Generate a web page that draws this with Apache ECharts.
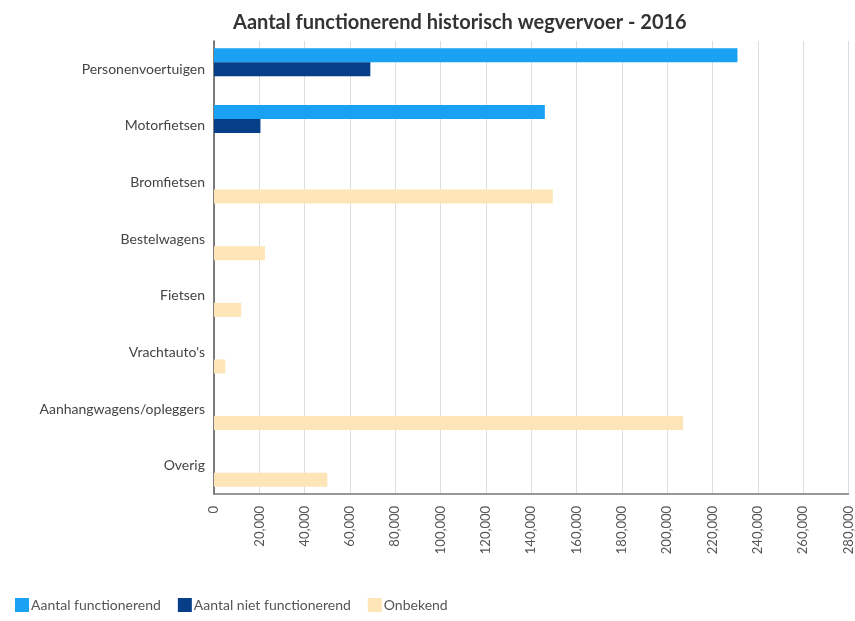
<!DOCTYPE html>
<html>
<head>
<meta charset="utf-8">
<script src="https://cdn.jsdelivr.net/npm/echarts@6/dist/echarts.min.js"></script>
<style>
html, body { margin: 0; padding: 0; background: #fff; }
#chart { width: 855px; height: 621px; }
</style>
</head>
<body>
<div id="chart"></div>
<script>
var categories = ['Personenvoertuigen', 'Motorfietsen', 'Bromfietsen', 'Bestelwagens', 'Fietsen', "Vrachtauto's", 'Aanhangwagens/opleggers', 'Overig'];
var functionerend = [231000, 146000, null, null, null, null, null, null];
var nietFunctionerend = [69000, 20500, null, null, null, null, null, null];
var onbekend = [null, null, 149500, 22500, 12000, 5000, 207000, 50000];

var chart = echarts.init(document.getElementById('chart'));
var option = {
	animation: false,
	textStyle: { fontFamily: 'Lato' },
	title: {
		text: 'Aantal functionerend historisch wegvervoer - 2016',
		left: 228,
		top: 8,
		textStyle: { fontSize: 20, fontWeight: 'bold', color: '#333', fontFamily: 'Lato' }
	},
	legend: {
		left: 10,
		bottom: 4,
		itemWidth: 14,
		itemHeight: 14,
		itemGap: 17,
		icon: 'rect',
		textStyle: { fontSize: 14, color: '#555', padding: [0, 0, 0, -3] },
		data: ['Aantal functionerend', 'Aantal niet functionerend', 'Onbekend']
	},
	grid: {
		left: 214,
		right: 3,
		top: 41,
		bottom: 127
	},
	xAxis: {
		type: 'value',
		min: 0,
		max: 280000,
		interval: 20000,
		axisLine: { show: true, lineStyle: { color: '#777', width: 1.5 } },
		axisTick: { show: false },
		splitLine: { lineStyle: { color: '#ddd' } },
		axisLabel: {
			rotate: 90,
			margin: 12,
			fontSize: 13,
			color: '#555',
			formatter: function (v) { return v.toLocaleString('en-US'); }
		}
	},
	yAxis: {
		type: 'category',
		inverse: true,
		data: categories,
		axisLine: { lineStyle: { color: '#555', width: 1.5 } },
		axisTick: { show: false },
		axisLabel: { fontSize: 14, color: '#444', margin: 9 }
	},
	series: [{
		name: 'Aantal functionerend',
		type: 'bar',
		barWidth: 14,
		barGap: '0%',
		itemStyle: { color: '#1aa1f3' },
		data: functionerend
	}, {
		name: 'Aantal niet functionerend',
		type: 'bar',
		barWidth: 14,
		barGap: '0%',
		itemStyle: { color: '#063f88' },
		data: nietFunctionerend
	}, {
		name: 'Onbekend',
		type: 'bar',
		barWidth: 14,
		barGap: '0%',
		itemStyle: { color: '#fde5b7' },
		data: onbekend
	}]
};
chart.setOption(option);
</script>
</body>
</html>
